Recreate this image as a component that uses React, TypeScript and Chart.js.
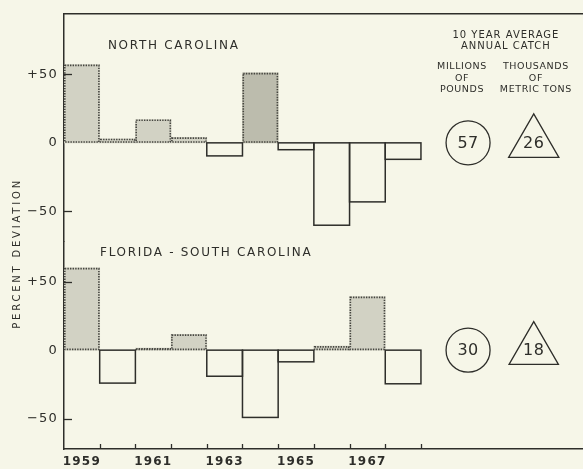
import React, { useEffect, useRef } from 'react';
import { Chart, registerables } from 'chart.js';

Chart.register(...registerables);

// ---- data ----
const years = [1959, 1960, 1961, 1962, 1963, 1964, 1965, 1966, 1967, 1968];
const yearTickLabels = [1959, 1961, 1963, 1965, 1967];
const northCarolina = [57, 3, 17, 4, -9.5, 51, -5, -60, -43, -12];
const floridaSouthCarolina = [60, -24, 1.5, 11.5, -19, -49, -8.5, 3, 39, -24.5];
const yTickValues = [-50, 0, 50];
const panelTitles = ['NORTH CAROLINA', 'FLORIDA - SOUTH CAROLINA'];
const averagePounds = [57, 30]; // millions of pounds
const averageTons = [26, 18]; // thousands of metric tons
const headerLines = ['10 YEAR AVERAGE', 'ANNUAL CATCH'];
const poundsLabel = ['MILLIONS', 'OF', 'POUNDS'];
const tonsLabel = ['THOUSANDS', 'OF', 'METRIC TONS'];
const axisTitle = 'PERCENT DEVIATION';

// ---- style ----
const BG = '#f6f6e8';
const INK = '#2e2e2a';
const FILL = '#d2d2c4';
const FILL_DARK = '#bcbcad';
const DARK_YEAR = 1964;
const FONT = '"DejaVu Sans", sans-serif';
const X_MIN = 1958.5;
const X_MAX = 1973.04;
const CIRCLE_X = 1969.82;
const TRIANGLE_X = 1971.66;

const barData = (vals: number[]) => years.map((y, i) => ({ x: y, y: vals[i] }));

const bgPlugin = {
  id: 'bgPlugin',
  beforeDraw(chart: any) {
    const { ctx, width, height } = chart;
    ctx.save();
    ctx.fillStyle = BG;
    ctx.fillRect(0, 0, width, height);
    ctx.restore();
    ctx.letterSpacing = '1.2px';
  },
};

// outlines: dotted for positive (shaded) bars, solid for negative bars
const outlinePlugin = {
  id: 'outlinePlugin',
  afterDatasetsDraw(chart: any) {
    const ctx = chart.ctx;
    chart.data.datasets.forEach((ds: any, di: number) => {
      const meta = chart.getDatasetMeta(di);
      if (meta.type !== 'bar') return;
      // solid outlines first, dotted on top
      [false, true].forEach((positivePass) => {
        meta.data.forEach((el: any, i: number) => {
          const v = ds.data[i].y;
          if ((v > 0) !== positivePass) return;
          const { x, y, base, width } = el.getProps(['x', 'y', 'base', 'width'], true);
          ctx.save();
          if (positivePass) {
            ctx.setLineDash([1.4, 1.2]);
            ctx.lineWidth = 1.6;
            ctx.strokeStyle = '#45453f';
            ctx.strokeRect(x - width / 2 + 0.8, y + 0.8, width - 1.6, base - y - 1.6);
          } else {
            ctx.lineWidth = 1.5;
            ctx.strokeStyle = INK;
            ctx.strokeRect(x - width / 2, base, width, y - base);
          }
          ctx.restore();
        });
      });
    });
  },
};

const annotatePlugin = {
  id: 'annotatePlugin',
  afterDraw(chart: any) {
    const { ctx, chartArea } = chart;
    const xs = chart.scales.x;
    const y1 = chart.scales.y1;
    const y2 = chart.scales.y2;
    const panels = [y1, y2];

    ctx.save();
    ctx.fillStyle = INK;
    ctx.strokeStyle = INK;

    // inward tick marks on x axis (bar boundaries)
    ctx.lineWidth = 1.3;
    years.forEach((yr) => {
      const px = Math.round(xs.getPixelForValue(yr + 0.5)) + 0.5;
      ctx.beginPath();
      ctx.moveTo(px, chartArea.bottom);
      ctx.lineTo(px, chartArea.bottom - 5);
      ctx.stroke();
    });
    // inward tick marks on y axes
    panels.forEach((s) => {
      [-50, 50].forEach((v) => {
        const py = Math.round(s.getPixelForValue(v)) + 0.5;
        ctx.beginPath();
        ctx.moveTo(chartArea.left, py);
        ctx.lineTo(chartArea.left + 8, py);
        ctx.stroke();
      });
    });

    // panel titles
    ctx.textBaseline = 'middle';
    ctx.textAlign = 'left';
    ctx.font = `12px ${FONT}`;
    ctx.letterSpacing = '1.7px';
    ctx.fillText(panelTitles[0], xs.getPixelForValue(1959.73), y1.getPixelForValue(71));
    ctx.fillText(panelTitles[1], xs.getPixelForValue(1959.51), y2.getPixelForValue(70.8));

    // header text
    ctx.textAlign = 'center';
    ctx.font = `10px ${FONT}`;
    ctx.letterSpacing = '1px';
    ctx.fillText(headerLines[0], xs.getPixelForValue(1970.88), y1.getPixelForValue(78));
    ctx.fillText(headerLines[1], xs.getPixelForValue(1970.88), y1.getPixelForValue(70));
    ctx.font = `9.5px ${FONT}`;
    ctx.letterSpacing = '0.6px';
    const rowVals = [55.6, 47, 39];
    poundsLabel.forEach((t, i) => ctx.fillText(t, xs.getPixelForValue(1969.65), y1.getPixelForValue(rowVals[i])));
    tonsLabel.forEach((t, i) => ctx.fillText(t, xs.getPixelForValue(1971.72), y1.getPixelForValue(rowVals[i])));

    // numbers inside markers
    ctx.font = `16px ${FONT}`;
    ctx.letterSpacing = '0.5px';
    panels.forEach((s, i) => {
      const py = s.getPixelForValue(0);
      ctx.fillText(String(averagePounds[i]), xs.getPixelForValue(CIRCLE_X), py + 1);
      ctx.fillText(String(averageTons[i]), xs.getPixelForValue(TRIANGLE_X), py + 1);
    });

    // y axis title
    ctx.save();
    ctx.font = `10px ${FONT}`;
    ctx.letterSpacing = '2.8px';
    ctx.translate(17, (chartArea.top + chartArea.bottom) / 2 + 22);
    ctx.rotate(-Math.PI / 2);
    ctx.fillText(axisTitle, 0, 0);
    ctx.restore();

    ctx.restore();
  },
};

const yAxis = (min: number, max: number, weight: number) => ({
  type: 'linear' as const,
  position: 'left' as const,
  stack: 'panels',
  stackWeight: weight,
  min,
  max,
  afterBuildTicks: (s: any) => {
    s.ticks = yTickValues.map((v) => ({ value: v }));
  },
  afterFit: (s: any) => {
    s.width = 64;
  },
  grid: { display: false, drawTicks: false },
  border: { display: true, color: INK, width: 1.5 },
  ticks: {
    padding: 6,
    color: INK,
    font: { family: FONT, size: 13 },
    callback: (v: any) => (v > 0 ? '+' + v : v < 0 ? '\u2212' + Math.abs(v) : '0'),
  },
});

export default function App() {
  const ref = useRef<HTMLCanvasElement>(null);

  useEffect(() => {
    document.body.style.margin = '0';
    document.body.style.background = BG;
    const barStyle = (vals: number[]) => ({
      backgroundColor: (c: any) => {
        const v = vals[c.dataIndex];
        if (v <= 0) return 'rgba(0,0,0,0)';
        return years[c.dataIndex] === DARK_YEAR && vals === northCarolina ? FILL_DARK : FILL;
      },
      borderWidth: 0,
      barPercentage: 1,
      categoryPercentage: 1,
      grouped: false,
    });
    const marker = (label: string, x: number, axis: string, style: string, r: number) => ({
      type: 'scatter', label,
      data: [{ x, y: 0 }], xAxisID: 'x', yAxisID: axis,
      pointStyle: style, pointRadius: r, backgroundColor: 'rgba(0,0,0,0)', borderColor: INK, borderWidth: 1.3,
    });
    const chart = new Chart(ref.current as HTMLCanvasElement, {
      type: 'bar',
      data: {
        datasets: [
          { type: 'bar', label: panelTitles[0], data: barData(northCarolina), xAxisID: 'x', yAxisID: 'y1', ...barStyle(northCarolina) } as any,
          { type: 'bar', label: panelTitles[1], data: barData(floridaSouthCarolina), xAxisID: 'x', yAxisID: 'y2', ...barStyle(floridaSouthCarolina) } as any,
          marker('pounds NC', CIRCLE_X, 'y1', 'circle', 22) as any,
          marker('tons NC', TRIANGLE_X, 'y1', 'triangle', 29) as any,
          marker('pounds FSC', CIRCLE_X, 'y2', 'circle', 22) as any,
          marker('tons FSC', TRIANGLE_X, 'y2', 'triangle', 28.5) as any,
        ],
      },
      options: {
        responsive: false,
        animation: false,
        devicePixelRatio: 1,
        layout: { padding: 0, autoPadding: false },
        plugins: { legend: { display: false }, tooltip: { enabled: false } },
        scales: {
          x: {
            type: 'linear',
            position: 'bottom',
            offset: false,
            min: X_MIN,
            max: X_MAX,
            afterBuildTicks: (s: any) => {
              s.ticks = yearTickLabels.map((v) => ({ value: v }));
            },
            afterFit: (s: any) => {
              s.height = 20;
            },
            grid: { display: false, drawTicks: false, offset: false },
            border: { display: true, color: INK, width: 1.5 },
            ticks: {
              autoSkip: false,
              maxRotation: 0,
              padding: 6,
              color: INK,
              font: { family: FONT, size: 12, weight: 'bold' },
              callback: (v: any) => String(v),
            },
          },
          xTop: {
            type: 'linear',
            position: 'top',
            offset: false,
            min: X_MIN,
            max: X_MAX,
            afterFit: (s: any) => {
              s.height = 10;
            },
            grid: { display: false, drawTicks: false },
            border: { display: true, color: INK, width: 1.5 },
            ticks: { display: false },
          },
          y2: yAxis(-72, 79, 151),
          y1: yAxis(-72, 94, 166),
        } as any,
      },
      plugins: [bgPlugin, outlinePlugin, annotatePlugin],
    });
    return () => chart.destroy();
  }, []);

  return (
    <div style={{ width: 583, height: 469 }}>
      <canvas ref={ref} width={583} height={469} style={{ display: 'block' }} />
    </div>
  );
}
